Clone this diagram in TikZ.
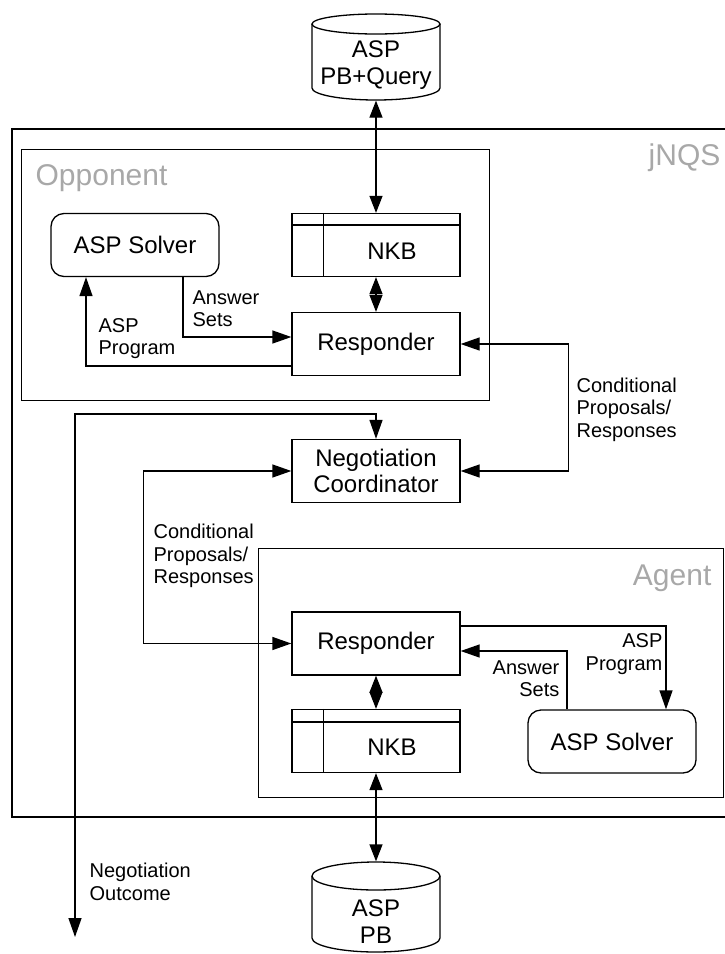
\documentclass[tikz,border=0pt]{standalone}
\usepackage{fontspec}
\setmainfont{Liberation Sans}
\usetikzlibrary{arrows.meta,calc}
\definecolor{hdrgray}{RGB}{168,168,168}

\begin{document}
\begin{tikzpicture}[x=1pt,y=-1pt,line width=1.3pt,
  box/.style={draw, minimum width=168pt, minimum height=63pt, inner sep=0pt,
    align=center, font=\fontsize{24}{26}\selectfont},
  solver/.style={box, rounded corners=13pt},
  frame/.style={draw, inner sep=0pt, anchor=north west},
  lbl/.style={inner sep=0pt, font=\fontsize{20}{22.5}\selectfont},
  hdr/.style={inner sep=0pt, text=hdrgray, font=\fontsize{30}{34}\selectfont},
  cyltext/.style={inner sep=0pt, align=center, font=\fontsize{24}{26.5}\selectfont},
  tip/.style={-{Triangle[length=19pt,width=13pt]}},
  both/.style={{Triangle[length=19pt,width=13pt]}-{Triangle[length=19pt,width=13pt]}},
  dtip/.style={{Triangle[length=17pt,width=13pt]}-{Triangle[length=17pt,width=13pt]}},
]
\useasboundingbox (0,0) rectangle (725,954);

% system frame (open on the right)
\draw (725,129) -- (12,129) -- (12,817) -- (725,817);
\node[hdr, anchor=base east] (jnqs) at (721,165) {jNQS};

% ---------- Opponent ----------
\node[frame, minimum width=468pt, minimum height=251pt] (opp) at (21,149) {};
\node[hdr, anchor=base west] (opplbl) at (35,185) {Opponent};

\node[solver] (osolv) at (135,245) {ASP Solver};
\node[box] (onkb) at (376,245) {};
\draw ($(onkb.north west)+(0,12)$) -- ($(onkb.north east)+(0,12)$);
\draw ($(onkb.north west)+(32,0)$) -- ($(onkb.south west)+(32,0)$);
\node[cyltext] (onkbtxt) at (392,251) {NKB};
\node[box] (oresp) at (376,344) {Responder};

% database on top
\node[minimum width=128pt, minimum height=86pt, inner sep=0pt] (pbq) at (376,57) {};
\draw (376,24) ellipse [x radius=64, y radius=10];
\draw (312,24) -- (312,88) .. controls (312,94.6) and (340.7,100) .. (376,100)
      .. controls (411.3,100) and (440,94.6) .. (440,88) -- (440,24);
\node[cyltext] (pbqtxt) at (376,65) {ASP\\PB+Query};

\draw[dtip] (pbq.south) -- (onkb.north);
\draw[dtip] (onkb.south) -- (oresp.north);
\draw[tip] ($(osolv.south)+(48,0)$) |- ($(oresp.west)+(0,-7)$);
\draw[tip] ($(oresp.west)+(0,22)$) -| ($(osolv.south)+(-49,0)$);
\node[lbl, anchor=west, align=left] (oans) at (192,308.5) {Answer\\Sets};
\node[lbl, anchor=west, align=left] (oprog) at (98,338.5) {ASP\\Program};

% ---------- Coordinator ----------
\node[box] (coord) at (376,471) {Negotiation\\Coordinator};

\draw[both] (oresp.east) -- ++(108,0) |- (coord.east);
\node[lbl, anchor=west, align=left] (condr) at (576,409.5) {Conditional\\Proposals/\\Responses};

\coordinate (outc) at (75,937);
\draw[both] (coord.north) |- (75,414) -- (outc);
\node[lbl, anchor=west, align=left] (outlbl) at (89,882) {Negotiation\\Outcome};

% ---------- Agent ----------
\node[frame, minimum width=465pt, minimum height=249pt] (agent) at (258,548) {};
\node[hdr, anchor=base east] (agentlbl) at (712,585) {Agent};

\node[box] (aresp) at (376,643.5) {Responder};
\node[box] (ankb) at (376,741) {};
\draw ($(ankb.north west)+(0,13)$) -- ($(ankb.north east)+(0,13)$);
\draw ($(ankb.north west)+(32,0)$) -- ($(ankb.south west)+(32,0)$);
\node[cyltext] (ankbtxt) at (392,747.5) {NKB};
\node[solver] (asolv) at (612,741.5) {ASP Solver};

\draw[both] (coord.west) -- ++(-148,0) |- (aresp.west);
\node[lbl, anchor=west, align=left] (condl) at (153,556) {Conditional\\Proposals/\\Responses};

\draw[dtip] (aresp.south) -- (ankb.north);
\draw[tip] ($(aresp.east)+(0,-17.5)$) -| ($(asolv.north)+(54,0)$);
\draw[tip] ($(asolv.north)+(-45,0)$) |- ($(aresp.east)+(0,7.5)$);
\node[lbl, anchor=east, align=right] (aprog) at (663,654) {ASP\\Program};
\node[lbl, anchor=east, align=right] (aans) at (560,678.5) {Answer\\Sets};

% database at the bottom
\node[minimum width=128pt, minimum height=90pt, inner sep=0pt] (pb) at (376,907) {};
\draw (376,876) ellipse [x radius=64, y radius=14];
\draw (312,876) -- (312,938) .. controls (312,945.7) and (340.7,952) .. (376,952)
      .. controls (411.3,952) and (440,945.7) .. (440,938) -- (440,876);
\node[cyltext] (pbtxt) at (376,921.5) {ASP\\PB};

\draw[dtip] (ankb.south) -- (pb.north);
\end{tikzpicture}
\end{document}
